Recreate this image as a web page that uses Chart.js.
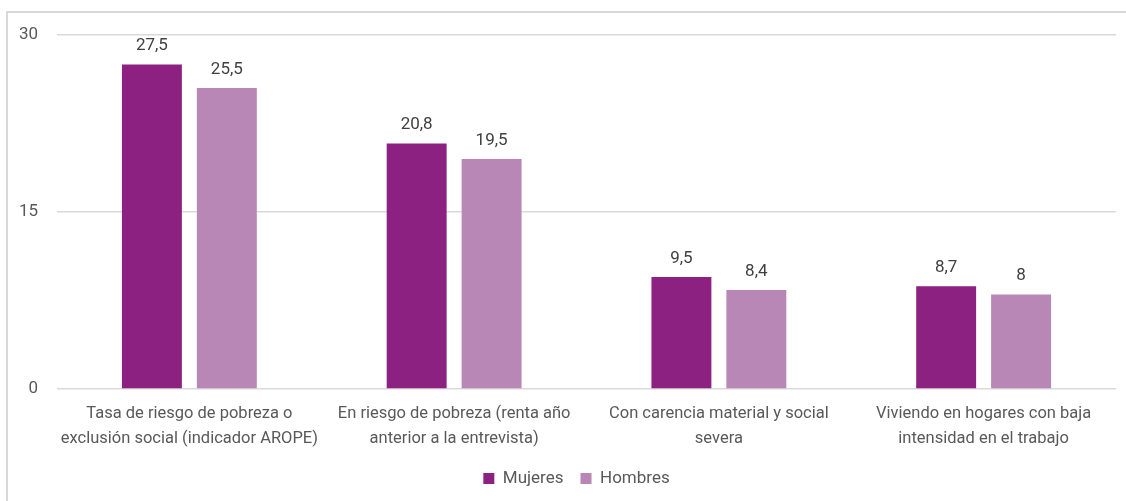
<!DOCTYPE html>
<html>
<head>
<meta charset="utf-8">
<script src="https://cdn.jsdelivr.net/npm/chart.js@4"></script>
<style>
    html, body { margin: 0; padding: 0; background: #ffffff; overflow: hidden; }
    #wrap { position: absolute; left: 0; top: 0; width: 1126px; height: 501px; }
</style>
</head>
<body>
<div id="wrap"><canvas id="myBarChart" width="1126" height="501"></canvas></div>
<script>
// Categories (each label split into its two lines)
var categories = [
    ['Tasa de riesgo de pobreza o', 'exclusión social (indicador AROPE)'],
    ['En riesgo de pobreza (renta año', 'anterior a la entrevista)'],
    ['Con carencia material y social', 'severa'],
    ['Viviendo en hogares con baja', 'intensidad en el trabajo']
];
var mujeres = [27.5, 20.8, 9.5, 8.7];
var hombres = [25.5, 19.5, 8.4, 8];
var yTicks = [0, 15, 30];

// Light grey frame along the top and left edge
var framePlugin = {
    id: 'frame',
    beforeDraw: function(chart) {
        var c = chart.ctx;
        c.save();
        c.strokeStyle = '#d9d9d9';
        c.lineWidth = 2;
        c.beginPath();
        c.moveTo(7, 600);
        c.lineTo(7, 12);
        c.lineTo(1200, 12);
        c.stroke();
        c.restore();
    }
};

// Nudge the legend a little to the right of the canvas centre
var legendShift = {
    id: 'legendShift',
    afterLayout: function(chart) {
        if (chart.legend) {
            chart.legend.left += 9;
            chart.legend.right += 9;
        }
    }
};

// Values written above each bar, decimal comma
var valueLabels = {
    id: 'valueLabels',
    afterDatasetsDraw: function(chart) {
        var c = chart.ctx;
        c.save();
        c.font = '17px Roboto';
        c.fillStyle = '#404040';
        c.textAlign = 'center';
        c.textBaseline = 'bottom';
        chart.data.datasets.forEach(function(ds, i) {
            chart.getDatasetMeta(i).data.forEach(function(bar, j) {
                var txt = String(ds.data[j]).replace('.', ',');
                c.fillText(txt, bar.x, bar.y - 10);
            });
        });
        c.restore();
    }
};

document.addEventListener("DOMContentLoaded", function() {
    var ctx = document.getElementById('myBarChart').getContext('2d');

    var myBarChart = new Chart(ctx, {
        type: 'bar',
        data: {
            labels: categories,
            datasets: [{
                label: 'Mujeres',
                data: mujeres,
                backgroundColor: '#8c2181',
                categoryPercentage: 0.566,
                barPercentage: 0.8
            }, {
                label: 'Hombres',
                data: hombres,
                backgroundColor: '#b987b5',
                categoryPercentage: 0.566,
                barPercentage: 0.8
            }]
        },
        options: {
            responsive: false,
            animation: false,
            layout: {
                padding: { left: 19, right: 10, top: 35, bottom: 4 }
            },
            scales: {
                y: {
                    min: 0,
                    max: 30,
                    afterBuildTicks: function(axis) {
                        axis.ticks = yTicks.map(function(v) { return { value: v }; });
                    },
                    afterFit: function(axis) {
                        axis.width = 38;
                    },
                    border: { display: false },
                    grid: { color: '#d9d9d9', lineWidth: 1.5, drawTicks: false },
                    ticks: {
                        padding: 19,
                        color: '#595959',
                        font: { family: 'Roboto', size: 17 }
                    }
                },
                x: {
                    afterFit: function(axis) {
                        axis.height = 64;
                        axis.paddingLeft = 0;
                        axis.paddingRight = 0;
                    },
                    border: { display: false },
                    grid: { display: false, drawTicks: false },
                    ticks: {
                        padding: 12,
                        maxRotation: 0,
                        color: '#595959',
                        font: { family: 'Roboto', size: 16.5, lineHeight: 1.52 }
                    }
                }
            },
            plugins: {
                legend: {
                    position: 'bottom',
                    labels: {
                        boxWidth: 11,
                        boxHeight: 11,
                        padding: 17,
                        color: '#595959',
                        font: { family: 'Roboto', size: 17 }
                    }
                },
                tooltip: { enabled: false }
            }
        },
        plugins: [framePlugin, legendShift, valueLabels]
    });
});
</script>
</body>
</html>
